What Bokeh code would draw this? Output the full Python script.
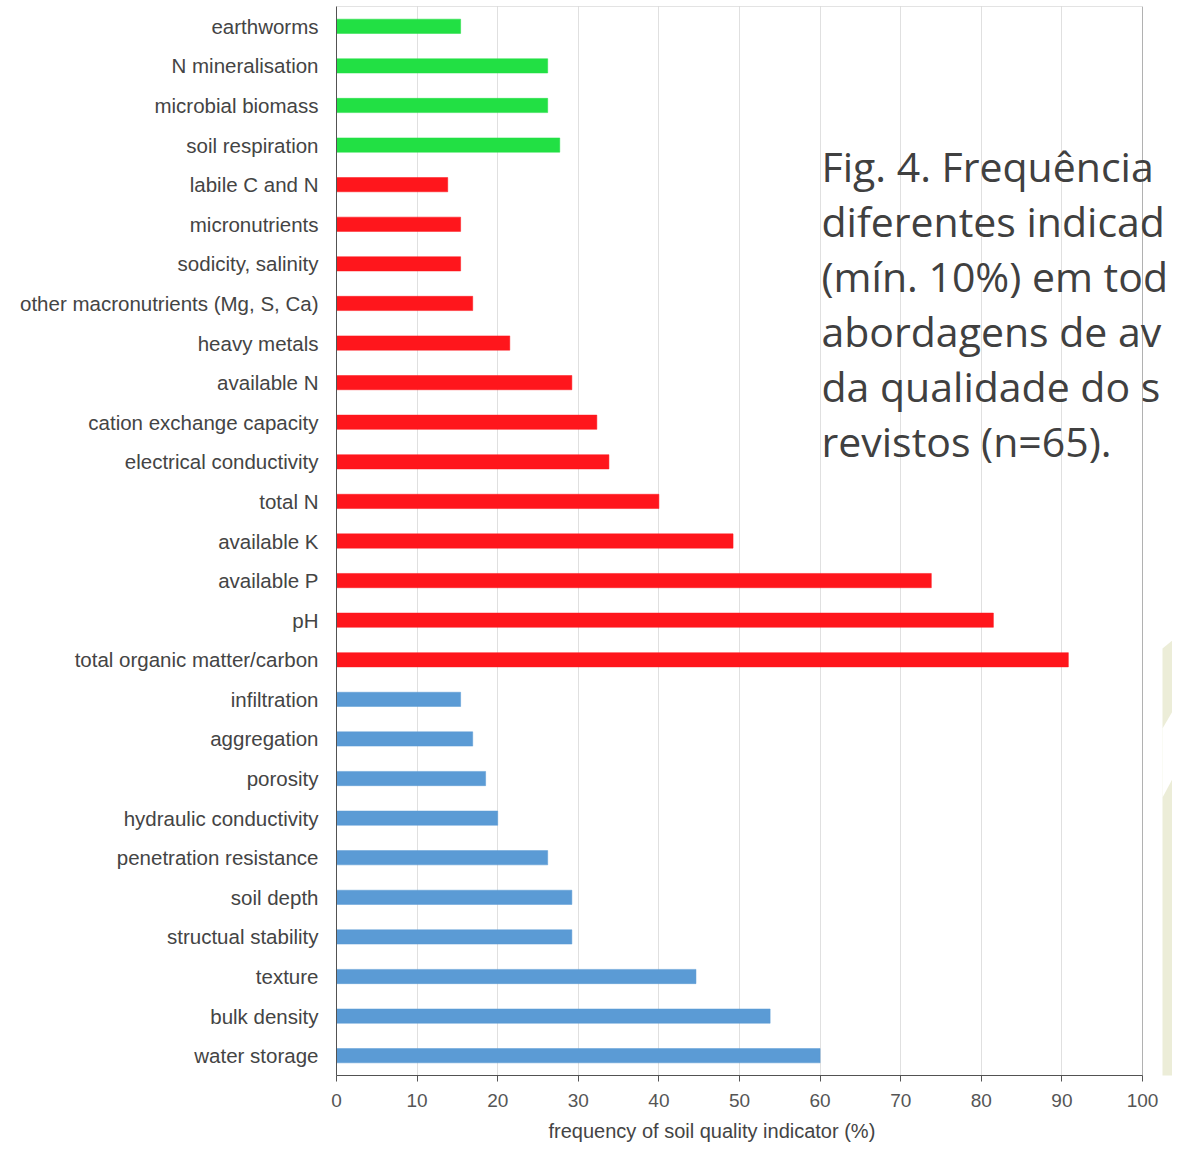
import numpy as np
from bokeh.plotting import figure
from bokeh.models import (ColumnDataSource, Range1d, FixedTicker, Label,
                          BoxAnnotation, PolyAnnotation, Title)
from bokeh.embed import file_html
from bokeh.resources import INLINE

# ---- data (top to bottom as in the chart) ----
categories = [
    "earthworms", "N mineralisation", "microbial biomass", "soil respiration",
    "labile C and N", "micronutrients", "sodicity, salinity",
    "other macronutrients (Mg, S, Ca)", "heavy metals", "available N",
    "cation exchange capacity", "electrical conductivity", "total N",
    "available K", "available P", "pH", "total organic matter/carbon",
    "infiltration", "aggregation", "porosity", "hydraulic conductivity",
    "penetration resistance", "soil depth", "structual stability", "texture",
    "bulk density", "water storage",
]
values = [
    15.4, 26.2, 26.2, 27.7,
    13.8, 15.4, 15.4, 16.9, 21.5, 29.2, 32.3, 33.8, 40.0, 49.2, 73.8, 81.5, 90.8,
    15.4, 16.9, 18.5, 20.0, 26.2, 29.2, 29.2, 44.6, 53.8, 60.0,
]
groups = ["biological"] * 4 + ["chemical"] * 13 + ["physical"] * 10
group_colors = {"biological": "#22E044", "chemical": "#FF161C", "physical": "#5B9BD5"}
x_ticks = [0, 10, 20, 30, 40, 50, 60, 70, 80, 90, 100]
x_max = 100
x_title = "frequency of soil quality  indicator (%)"

# caption overlaid on the slide (as much as is visible in the picture)
title_lines = [
    "Fig. 4. Frequência",
    "diferentes indicad",
    "(mín. 10%) em tod",
    "abordagens de av",
    "da qualidade do s",
    "revistos (n=65).",
]

n = len(categories)
ypos = [n - 0.5 - i for i in range(n)]
colors = [group_colors[g] for g in groups]
source = ColumnDataSource(dict(y=ypos, v=values, cat=categories, color=colors))

# ---- layout ----
W, H = 1172, 1154
BL, BT, BB = 336, 6, 79
axis_px = 806                      # pixels from 0 to 100 on the x axis
frame_w = W - BL                   # frame runs to the right edge (caption overlaps)
frame_h = H - BT - BB
x_end = x_max * frame_w / axis_px

p = figure(width=W, height=H, output_backend="svg", toolbar_location=None,
           x_range=Range1d(0, x_end), y_range=Range1d(0, n),
           min_border_left=BL, min_border_right=0,
           min_border_top=BT, min_border_bottom=BB)

p.hbar(y="y", right="v", left=0, height=0.36, color="color",
       line_color="color", line_alpha=0.5, source=source)

# axes
p.xaxis.ticker = FixedTicker(ticks=x_ticks)
p.xaxis.bounds = (0, x_max)
p.xaxis.major_label_text_font = "Liberation Sans"
p.xaxis.major_label_text_font_size = "19px"
p.xaxis.major_label_text_color = "#555555"
p.xaxis.major_label_standoff = 12
p.xaxis.major_tick_out = 6
p.xaxis.major_tick_in = 0
p.xaxis.minor_tick_line_color = None
p.xaxis.axis_line_color = "#555555"
p.xaxis.major_tick_line_color = "#555555"

p.yaxis.ticker = FixedTicker(ticks=ypos)
p.yaxis.major_label_overrides = {float(y): c for y, c in zip(ypos, categories)}
p.yaxis.major_label_text_font = "Liberation Sans"
p.yaxis.major_label_text_font_size = "20.5px"
p.yaxis.major_label_text_color = "#444444"
p.yaxis.major_label_standoff = 12
p.yaxis.major_tick_line_color = None
p.yaxis.minor_tick_line_color = None
p.yaxis.axis_line_color = "#555555"

# x-axis title (placed under the 0..100 part of the axis)
p.add_layout(Title(text=x_title, align="left", offset=212,
                   text_font="Liberation Sans", text_font_style="normal",
                   text_font_size="20px", text_color="#444444", standoff=17),
             "below")

p.ygrid.grid_line_color = None
p.xgrid.grid_line_color = "#e0e0e0"
p.xgrid.ticker = FixedTicker(ticks=x_ticks)
p.xgrid.bounds = (0, x_max)

p.outline_line_color = None

# helpers to place overlays
px_x = axis_px / x_max
px_y = frame_h / n
frame_bottom = BT + frame_h

def data_y(py):
    return (frame_bottom - py) / px_y

def data_x(px):
    return (px - BL) / px_x

# pale slide decoration at the right edge
p.add_layout(PolyAnnotation(
    xs=[data_x(1162), data_x(1190), data_x(1190), data_x(1162)],
    ys=[data_y(648), data_y(625), data_y(1200), data_y(1200)],
    fill_color="#ECEDD8", fill_alpha=1.0, line_color=None, level="underlay"))
p.add_layout(PolyAnnotation(
    xs=[data_x(1162), data_x(1190), data_x(1190), data_x(1162)],
    ys=[data_y(728), data_y(680), data_y(745), data_y(797)],
    fill_color="#FFFFFF", fill_alpha=1.0, line_color=None, level="underlay"))

# plot-area border (0..100)
p.add_layout(BoxAnnotation(left=0, right=x_max, bottom=0, top=n,
                           fill_alpha=0, line_color="#444444", line_width=1,
                           level="overlay"))

for k, line in enumerate(title_lines):
    p.add_layout(Label(x=data_x(821), y=data_y(165 + 55 * k), text=line,
                       text_font="Open Sans", text_font_size="41px",
                       text_color="#404040", text_baseline="alphabetic",
                       text_align="left"))

open("out.html", "w").write(file_html(p, INLINE))
